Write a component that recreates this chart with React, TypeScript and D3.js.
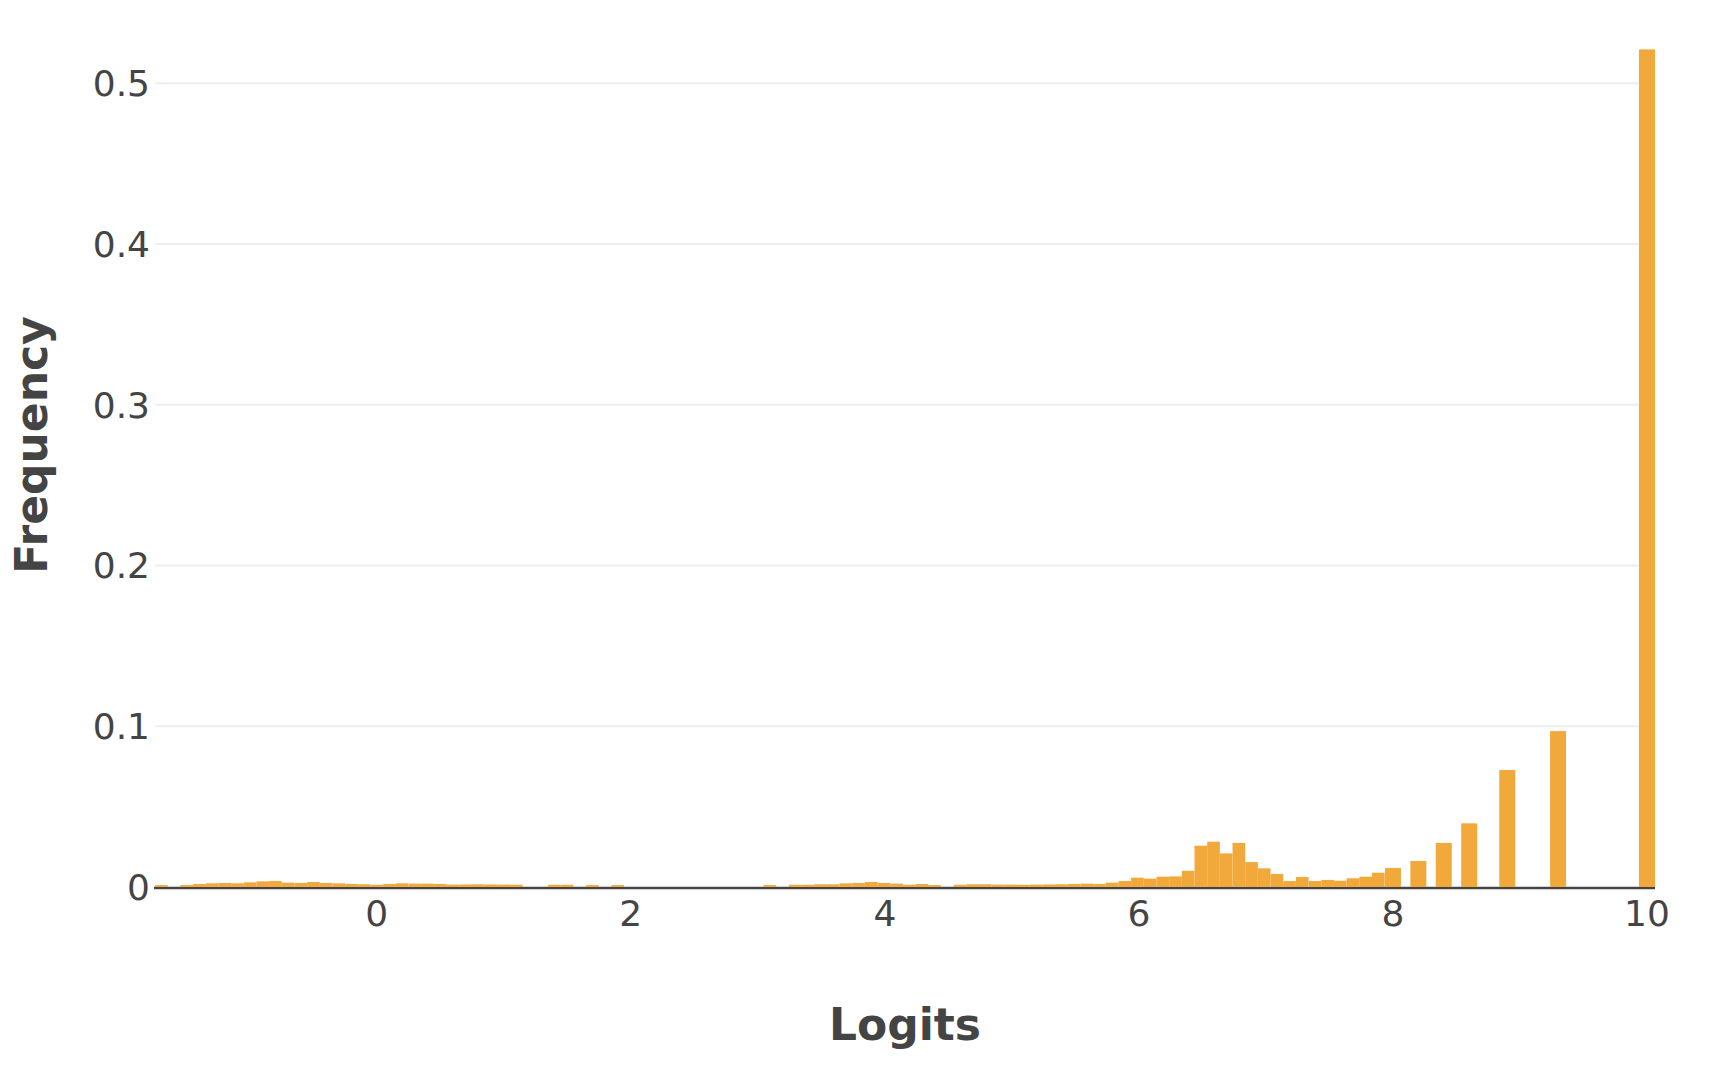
import React from "react";
import * as d3 from "d3";

// Histogram part: consecutive bins of equal width
const binStart = -1.746;
const binWidth = 0.0998;
const binFreq = [
  0.0012, 0, 0.0012, 0.0019, 0.0023, 0.0025, 0.0023, 0.0029, 0.0035, 0.0037,
  0.0027, 0.0025, 0.0031, 0.0025, 0.0023, 0.0019, 0.0017, 0.0014, 0.0019, 0.0023,
  0.0021, 0.0021, 0.0019, 0.0015, 0.0016, 0.0017, 0.0016, 0.0015, 0.0014, 0,
  0, 0.0014, 0.0014, 0, 0.0012, 0, 0.0012, 0, 0, 0,
  0, 0, 0, 0, 0, 0, 0, 0, 0.0012, 0,
  0.0014, 0.0014, 0.0017, 0.0017, 0.0023, 0.0025, 0.0031, 0.0025, 0.0021, 0.0014,
  0.0019, 0.0012, 0, 0.0014, 0.0017, 0.0017, 0.0015, 0.0015, 0.0014, 0.0015,
  0.0016, 0.0017, 0.0019, 0.0021, 0.0019, 0.0027, 0.0037, 0.0058, 0.0052, 0.0064,
  0.0066, 0.0101, 0.0257, 0.0282, 0.0209, 0.0274, 0.0155, 0.0116, 0.0081, 0.0037,
  0.0062, 0.0037, 0.0044, 0.0039, 0.0054, 0.0064, 0.0089,
];

// Isolated high-logit bars
const peakCenters = [8.0, 8.2, 8.4, 8.6, 8.9, 9.3, 10.0];
const peakFreq = [0.0118, 0.0162, 0.0274, 0.0396, 0.0728, 0.097, 0.5211];
const peakWidth = 0.126;

const xTicks = [0, 2, 4, 6, 8, 10];
const yTicks = [0, 0.1, 0.2, 0.3, 0.4, 0.5];

const xTitle = "Logits";
const yTitle = "Frequency";

export default function App() {
  const W = 1714;
  const H = 1078;
  const left = 155;
  const right = 1655;
  const bottom = 887;

  const bars = [
    ...binFreq.map((v, i) => ({
      x0: binStart + i * binWidth,
      x1: binStart + (i + 1) * binWidth,
      v,
    })),
    ...peakCenters.map((c, i) => ({
      x0: c - peakWidth / 2,
      x1: c + peakWidth / 2,
      v: peakFreq[i],
    })),
  ];

  const xMin = d3.min(bars, (b) => b.x0) as number;
  const xMax = d3.max(bars, (b) => b.x1) as number;

  const x = d3.scaleLinear().domain([xMin, xMax]).range([left, right]);
  const y = d3.scaleLinear().domain([0, 0.5]).range([bottom, 83.3]);

  const font = "'DejaVu Sans', Verdana, sans-serif";
  const fmt = d3.format("");

  return (
    <svg
      width={W}
      height={H}
      style={{ position: "absolute", left: 0, top: 0, background: "#fff" }}
    >
      {yTicks
        .filter((t) => t > 0)
        .map((t) => (
          <line
            key={"g" + t}
            x1={left}
            x2={right}
            y1={y(t)}
            y2={y(t)}
            stroke="#eeeeee"
            strokeWidth={2}
          />
        ))}
      <line
        x1={left - 1}
        x2={right}
        y1={y(0) + 1}
        y2={y(0) + 1}
        stroke="#444"
        strokeWidth={2.5}
      />
      {bars
        .filter((b) => b.v > 0)
        .map((b, i) => (
          <rect
            key={"b" + i}
            x={x(b.x0)}
            width={x(b.x1) - x(b.x0)}
            y={y(b.v)}
            height={y(0) - y(b.v)}
            fill="#f2a93b"
          />
        ))}
      {yTicks.map((t) => (
        <text
          key={"yt" + t}
          x={150}
          y={y(t)}
          dy="0.36em"
          textAnchor="end"
          fontFamily={font}
          fontSize={36}
          fill="#444"
        >
          {fmt(t)}
        </text>
      ))}
      {xTicks.map((t) => (
        <text
          key={"xt" + t}
          x={x(t)}
          y={926}
          textAnchor="middle"
          fontFamily={font}
          fontSize={36}
          fill="#444"
        >
          {fmt(t)}
        </text>
      ))}
      <text
        x={(left + right) / 2}
        y={1040}
        textAnchor="middle"
        fontFamily={font}
        fontWeight="bold"
        fontSize={44}
        fill="#444"
      >
        {xTitle}
      </text>
      <text
        transform={`translate(47,445) rotate(-90)`}
        textAnchor="middle"
        fontFamily={font}
        fontWeight="bold"
        fontSize={44}
        fill="#444"
      >
        {yTitle}
      </text>
    </svg>
  );
}
